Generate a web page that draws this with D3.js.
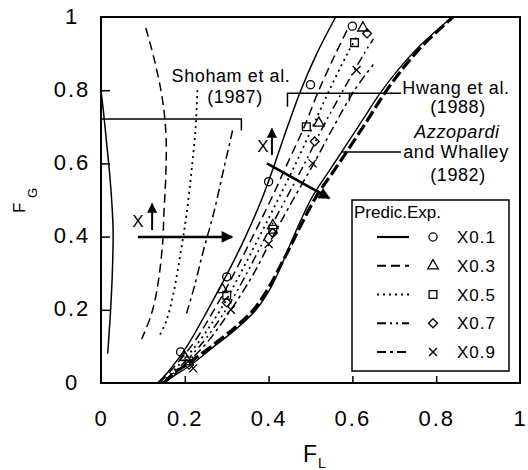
<!DOCTYPE html>
<html>
<head>
<meta charset="utf-8">
<script src="https://cdn.jsdelivr.net/npm/d3@7"></script>
<style>
  body { margin: 0; background: #fff; }
  svg { display: block; }
  text { font-family: "Liberation Sans", Arial, Helvetica, sans-serif; fill: #000; }
</style>
</head>
<body>
<svg id="chart" width="528" height="470"></svg>
<script>
// ============ data (F_L, F_G) ============

const xTicks = [0, 0.2, 0.4, 0.6, 0.8, 1];
const yTicks = [0, 0.2, 0.4, 0.6, 0.8, 1];

// Shoham et al. (1987)
const shohamSolid = [[0.000,0.80],[0.006,0.74],[0.013,0.66],[0.020,0.58],[0.026,0.49],[0.029,0.41],[0.027,0.30],[0.023,0.20],[0.019,0.13],[0.016,0.08]];
const shohamDashed = [[0.107,0.97],[0.128,0.88],[0.146,0.78],[0.155,0.68],[0.155,0.58],[0.150,0.46],[0.147,0.38],[0.133,0.25],[0.118,0.18],[0.097,0.12]];
const shohamDotted = [[0.230,0.80],[0.226,0.70],[0.216,0.58],[0.204,0.46],[0.192,0.37],[0.172,0.24],[0.156,0.17],[0.140,0.13]];
const shohamDashDot = [[0.314,0.69],[0.292,0.58],[0.268,0.46],[0.244,0.36],[0.222,0.26],[0.204,0.19]];

// Hwang et al. (1988), one prediction per quality
const hwangX01 = [[0.135,0],[0.160,0.03],[0.205,0.10],[0.255,0.20],[0.302,0.30],[0.345,0.40],[0.383,0.50],[0.415,0.60],[0.445,0.70],[0.477,0.80],[0.515,0.90],[0.560,1.00]];
const hwangX03 = [[0.140,0],[0.215,0.10],[0.270,0.20],[0.318,0.30],[0.362,0.40],[0.405,0.50],[0.445,0.60],[0.485,0.70],[0.520,0.80],[0.560,0.90],[0.590,0.97]];
const hwangX05 = [[0.145,0],[0.225,0.10],[0.285,0.20],[0.333,0.30],[0.378,0.40],[0.422,0.50],[0.465,0.60],[0.505,0.70],[0.545,0.80],[0.588,0.90],[0.612,0.95]];
const hwangX07 = [[0.148,0],[0.235,0.10],[0.298,0.20],[0.348,0.30],[0.393,0.40],[0.440,0.50],[0.486,0.60],[0.530,0.70],[0.578,0.80],[0.628,0.90],[0.650,0.94]];
const hwangX09 = [[0.152,0],[0.245,0.10],[0.310,0.20],[0.365,0.30],[0.410,0.40],[0.458,0.50],[0.508,0.60],[0.555,0.70],[0.605,0.80],[0.650,0.87]];

// Azzopardi and Whalley (1982)
const azzSolid = [[0.150,0],[0.175,0.02],[0.215,0.05],[0.270,0.10],[0.325,0.15],[0.370,0.20],[0.405,0.26],[0.430,0.32],[0.452,0.38],[0.475,0.44],[0.505,0.51],[0.545,0.58],[0.585,0.65],[0.625,0.72],[0.665,0.79],[0.705,0.85],[0.760,0.92],[0.838,1.00]];
const azzDash = [[0.150,0],[0.172,0.025],[0.210,0.055],[0.263,0.10],[0.318,0.15],[0.364,0.20],[0.400,0.26],[0.428,0.32],[0.455,0.38],[0.481,0.44],[0.514,0.51],[0.556,0.58],[0.597,0.65],[0.637,0.72],[0.676,0.79],[0.714,0.85],[0.766,0.92],[0.840,1.00]];

// experiments
const expX01 = [[0.190,0.085],[0.300,0.290],[0.400,0.550],[0.500,0.815],[0.600,0.975]];
const expX03 = [[0.200,0.070],[0.290,0.255],[0.410,0.430],[0.520,0.710],[0.625,0.970]];
const expX05 = [[0.210,0.060],[0.300,0.240],[0.410,0.420],[0.490,0.700],[0.605,0.930]];
const expX07 = [[0.210,0.050],[0.300,0.220],[0.410,0.410],[0.510,0.660],[0.635,0.955]];
const expX09 = [[0.220,0.040],[0.310,0.200],[0.400,0.380],[0.505,0.600],[0.610,0.855]];

// annotation geometry
const shohamBracket = [[0,0.721],[0.335,0.721],[0.335,0.69]];
const hwangBracket = [[0.445,0.755],[0.445,0.792],[0.593,0.792],[0.593,0.77]];
const hwangLeader = [[0.593,0.792],[0.716,0.792]];
const azzLeader = [[0.573,0.631],[0.716,0.631]];
const leftArrow = [[0.088,0.399],[0.313,0.399]];
const rightArrow = [[0.396,0.600],[0.545,0.505]];
const leftUp = [[0.122,0.418],[0.122,0.490]];
const rightUp = [[0.408,0.623],[0.408,0.695]];

const legendLabels = ['X0.1', 'X0.3', 'X0.5', 'X0.7', 'X0.9'];
const dashes = [null, '9,5', '2,4', '9,4,2,4,2,4', '9,4,3,4'];
const markerKinds = ['circle', 'triangle', 'square', 'diamond', 'cross'];

// ============ drawing ============

const svg = d3.select('#chart');
const x = d3.scaleLinear().domain([0, 1]).range([101, 520]);
const y = d3.scaleLinear().domain([0, 1]).range([383, 17]);

const curve = d3.line()
  .x(d => x(d[0]))
  .y(d => y(d[1]))
  .curve(d3.curveCatmullRom.alpha(0.5));
const straight = d3.line().x(d => x(d[0])).y(d => y(d[1]));

// frame
svg.append('rect')
  .attr('x', x(0)).attr('y', y(1))
  .attr('width', x(1) - x(0)).attr('height', y(0) - y(1))
  .attr('fill', 'none').attr('stroke', '#000').attr('stroke-width', 2);

// axes: inward ticks
const tickFmt = d => d === 0 || d === 1 ? d3.format('d')(d) : d3.format('.1f')(d);
const xAxis = svg.append('g')
  .attr('transform', `translate(0,${y(0)})`)
  .call(d3.axisBottom(x).tickValues(xTicks).tickSizeInner(-7).tickSizeOuter(0).tickPadding(27).tickFormat(tickFmt));
const yAxis = svg.append('g')
  .attr('transform', `translate(${x(0)},0)`)
  .call(d3.axisLeft(y).tickValues(yTicks).tickSizeInner(-9).tickSizeOuter(0).tickFormat(tickFmt));

[xAxis, yAxis].forEach(a => {
  a.select('.domain').remove();
  a.selectAll('line').attr('stroke', '#000').attr('stroke-width', 1.5);
  a.selectAll('text')
    .attr('fill', '#000')
    .style('font-size', '22px')
    .style('letter-spacing', '2px')
    .style('font-family', '"Liberation Sans", Arial, sans-serif');
});
xAxis.selectAll('.tick line').filter(d => d === 0 || d === 1).remove();
yAxis.selectAll('.tick line').filter(d => d === 0 || d === 1).remove();
yAxis.selectAll('text').attr('text-anchor', 'middle').attr('x', -29).attr('dy', '0.28em');

// axis titles
svg.append('text').attr('x', 303).attr('y', 462).style('font-size', '23px').text('F');
svg.append('text').attr('x', 318).attr('y', 468).style('font-size', '14px').text('L');
svg.append('text').attr('transform', 'translate(25,213) rotate(-90)').style('font-size', '17px').text('F');
svg.append('text').attr('transform', 'translate(37,198) rotate(-90)').style('font-size', '13px').text('G');

const plot = svg.append('g');

function drawLine(data, dash, width) {
  plot.append('path')
    .attr('d', curve(data))
    .attr('fill', 'none')
    .attr('stroke', '#000')
    .attr('stroke-width', width || 1.5)
    .attr('stroke-dasharray', dash);
}

// Shoham family
drawLine(shohamSolid, dashes[0]);
drawLine(shohamDashed, dashes[1]);
drawLine(shohamDotted, dashes[2], 1.8);
drawLine(shohamDashDot, dashes[4]);

// Hwang family
[hwangX01, hwangX03, hwangX05, hwangX07, hwangX09].forEach((s, i) => drawLine(s, dashes[i], i === 2 ? 1.8 : 1.5));

// Azzopardi and Whalley
drawLine(azzSolid, null, 1.4);
drawLine(azzDash, '12,4', 3.2);

// markers
function markerPath(kind) {
  if (kind === 'circle') return d3.symbol(d3.symbolCircle, 52)();
  if (kind === 'triangle') return d3.symbol(d3.symbolTriangle, 48)();
  if (kind === 'square') return d3.symbol(d3.symbolSquare, 60)();
  if (kind === 'diamond') return d3.symbol(d3.symbolSquare, 40)();
  return 'M-4,-4L4,4M-4,4L4,-4';
}
function markerTransform(kind, px, py) {
  return `translate(${px},${py})` + (kind === 'diamond' ? ' rotate(45)' : '');
}

[expX01, expX03, expX05, expX07, expX09].forEach((s, i) => {
  const kind = markerKinds[i];
  plot.selectAll(null)
    .data(s)
    .join('path')
    .attr('d', markerPath(kind))
    .attr('transform', d => markerTransform(kind, x(d[0]), y(d[1])))
    .attr('fill', 'none')
    .attr('stroke', '#000')
    .attr('stroke-width', 1.3);
});

// brackets and leaders
[shohamBracket, hwangBracket, hwangLeader, azzLeader].forEach(b => {
  plot.append('path').attr('d', straight(b))
    .attr('fill', 'none').attr('stroke', '#000').attr('stroke-width', 1.5);
});

// arrows
const defs = svg.append('defs');
defs.append('marker')
  .attr('id', 'head')
  .attr('viewBox', '0 0 10 10')
  .attr('refX', 9).attr('refY', 5)
  .attr('markerWidth', 7).attr('markerHeight', 4.5)
  .attr('markerUnits', 'strokeWidth')
  .attr('orient', 'auto')
  .append('path').attr('d', 'M0,0L10,5L0,10Z').attr('fill', '#000');
defs.append('marker')
  .attr('id', 'headSmall')
  .attr('viewBox', '0 0 10 10')
  .attr('refX', 9).attr('refY', 5)
  .attr('markerWidth', 5).attr('markerHeight', 5)
  .attr('markerUnits', 'strokeWidth')
  .attr('orient', 'auto')
  .append('path').attr('d', 'M0,0L10,5L0,10Z').attr('fill', '#000');

[leftArrow, rightArrow].forEach(a => {
  plot.append('path').attr('d', straight(a))
    .attr('stroke', '#000').attr('stroke-width', 2.6)
    .attr('marker-end', 'url(#head)');
});
[leftUp, rightUp].forEach(a => {
  plot.append('path').attr('d', straight(a))
    .attr('stroke', '#000').attr('stroke-width', 2)
    .attr('marker-end', 'url(#headSmall)');
});
svg.append('text').attr('x', 138).attr('y', 227).attr('text-anchor', 'middle').style('font-size', '17px').text('X');
svg.append('text').attr('x', 263).attr('y', 152).attr('text-anchor', 'middle').style('font-size', '17px').text('X');

// labels
function label(txt, cx, by, italic) {
  svg.append('text')
    .attr('x', cx).attr('y', by)
    .attr('text-anchor', 'middle')
    .style('font-size', '18px')
    .style('letter-spacing', '0.6px')
    .style('font-style', italic ? 'italic' : null)
    .text(txt);
}
label('Shoham et al.', 231, 82);
label('(1987)', 235, 103);
label('Hwang et al.', 456, 94);
label('(1988)', 458, 113);
label('Azzopardi', 457, 138, true);
label('and Whalley', 456, 158);
label('(1982)', 458, 181);

// legend
const legend = svg.append('g');
legend.append('rect')
  .attr('x', 352).attr('y', 200).attr('width', 157).attr('height', 171)
  .attr('fill', '#fff').attr('stroke', '#000').attr('stroke-width', 1.5);
legend.append('text').attr('x', 354).attr('y', 218).style('font-size', '17px').text('Predic.Exp.');

const rowY = d3.scalePoint().domain(legendLabels).range([237, 352]);
legendLabels.forEach((lab, i) => {
  const ry = rowY(lab);
  legend.append('line')
    .attr('x1', 377).attr('x2', 409).attr('y1', ry).attr('y2', ry)
    .attr('stroke', '#000').attr('stroke-width', i === 2 ? 1.8 : 2.2)
    .attr('stroke-dasharray', dashes[i]);
  legend.append('path')
    .attr('d', markerPath(markerKinds[i]))
    .attr('transform', markerTransform(markerKinds[i], 433, ry))
    .attr('fill', 'none').attr('stroke', '#000').attr('stroke-width', 1.3);
  legend.append('text')
    .attr('x', 457).attr('y', ry + 6)
    .style('font-size', '17px')
    .style('letter-spacing', '1px')
    .text(lab);
});
</script>
</body>
</html>
